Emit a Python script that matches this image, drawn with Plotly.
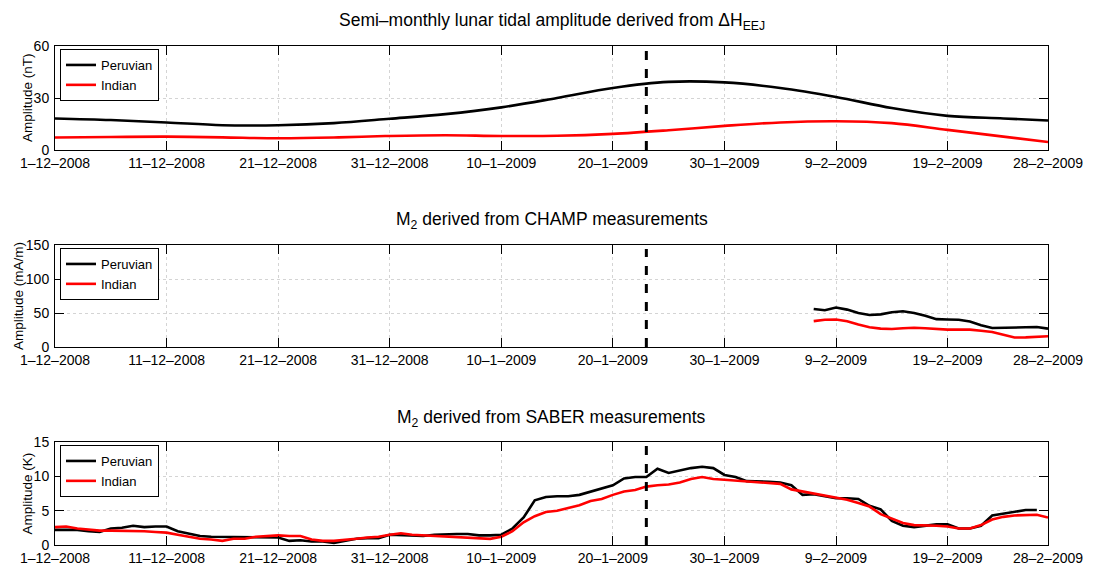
import pandas as pd
import plotly.graph_objects as go

# ---------------- data ----------------
start = pd.Timestamp("2008-12-01")
event_date = "2009-01-23"

# Panel 1: semi-monthly lunar tide from dH_EEJ (values every 5 days, smooth)
eej_days = [0, 5, 10, 15, 20, 25, 30, 35, 40, 45, 50, 55, 60, 65, 70, 75, 80, 85, 89]
eej_peruvian = [18.2, 17.3, 15.9, 14.3, 14.3, 15.5, 18.0, 20.7, 24.6, 30.0, 35.8, 39.3,
                39.0, 35.8, 30.6, 24.2, 19.7, 18.2, 17.0]
eej_indian = [7.2, 7.5, 7.7, 7.3, 6.8, 7.2, 8.1, 8.5, 8.1, 8.2, 9.3, 11.4,
              13.9, 15.9, 16.6, 15.5, 11.6, 7.7, 4.6]

# Panel 2: M2 from CHAMP (daily, days 68..89)
champ_days = list(range(68, 90))
champ_peruvian = [56, 54, 58, 55, 50, 47, 48, 51, 52.5, 50, 46, 41, 40.5, 40, 37.5,
                  32, 28, 28, 28.5, 29, 29.5, 27]
champ_indian = [38, 40, 40.4, 38, 33, 29, 27, 26.4, 27.5, 28.4, 27.6, 26.2, 25.5, 25.8,
                25.5, 24, 22, 18, 14, 14.2, 15.5, 15.9]

# Panel 3: M2 from SABER (daily)
saber_peruvian = [2.2, 2.2, 2.2, 2.0, 1.9, 2.4, 2.5, 2.8, 2.6, 2.7, 2.7, 2.0, 1.7, 1.3, 1.2,
                  1.2, 1.2, 1.2, 1.1, 1.1, 1.1, 0.6, 0.7, 0.5, 0.5, 0.3, 0.6, 0.9, 1.0, 1.0,
                  1.5, 1.4, 1.3, 1.3, 1.5, 1.6, 1.6, 1.6, 1.4, 1.4, 1.5, 2.4, 4.0, 6.5, 7.0,
                  7.1, 7.1, 7.3, 7.8, 8.3, 8.7, 9.7, 9.9, 9.9, 11.1, 10.5, 10.9, 11.2, 11.4,
                  11.2, 10.2, 9.9, 9.3, 9.3, 9.2, 9.1, 8.7, 7.3, 7.4, 7.1, 6.8, 6.8, 6.7,
                  5.7, 5.2, 3.5, 2.8, 2.6, 2.8, 3.0, 3.0, 2.4, 2.4, 2.8, 4.3, 4.6, 4.9,
                  5.1, 5.1]
saber_indian = [2.6, 2.7, 2.4, 2.2, 2.1, 2.1, 2.1, 2.1, 2.0, 1.9, 1.8, 1.5, 1.2, 0.9, 0.8,
                0.6, 0.9, 0.9, 1.2, 1.3, 1.4, 1.3, 1.3, 0.8, 0.6, 0.6, 0.7, 0.9, 1.1, 1.2,
                1.5, 1.7, 1.5, 1.4, 1.3, 1.3, 1.2, 1.1, 1.0, 0.9, 1.2, 2.0, 3.3, 4.2, 4.8,
                5.0, 5.4, 5.8, 6.4, 6.7, 7.3, 7.8, 8.0, 8.5, 8.7, 8.8, 9.1, 9.6, 9.9, 9.6,
                9.5, 9.4, 9.2, 9.1, 9.1, 8.9, 8.1, 7.8, 7.5, 7.2, 6.8, 6.6, 6.1, 5.6, 4.5,
                3.8, 3.2, 2.9, 2.9, 2.8, 2.7, 2.4, 2.4, 2.9, 3.7, 4.1, 4.3, 4.4, 4.4, 4.0]

tick_dates = ["2008-12-01", "2008-12-11", "2008-12-21", "2008-12-31", "2009-01-10",
              "2009-01-20", "2009-01-30", "2009-02-09", "2009-02-19", "2009-02-28"]
tick_labels = ["1–12–2008", "11–12–2008", "21–12–2008", "31–12–2008", "10–1–2009",
               "20–1–2009", "30–1–2009", "9–2–2009", "19–2–2009", "28–2–2009"]

titles = ["Semi–monthly lunar tidal amplitude derived from ΔH<sub>EEJ</sub>",
          "M<sub>2</sub> derived from CHAMP measurements",
          "M<sub>2</sub> derived from SABER measurements"]
ytitles = ["Amplitude (nT)", "Amplitude (mA/m)", "Amplitude (K)"]
yranges = [[0, 60], [0, 150], [0, 15]]
yticks = [[0, 30, 60], [0, 50, 100, 150], [0, 5, 10, 15]]


def to_dates(days):
    return [start + pd.Timedelta(days=int(d)) for d in days]


# ---------------- figure ----------------
# page body has an 8px margin, so the figure is sized/positioned to compensate
W, H = 1091, 557
ml, mr, mt, mb = 47, 51, 38, 20
ph = H - mt - mb
pw = W - ml - mr
panels_px = [(38, 142), (237, 339), (434, 537)]   # (top, bottom) in figure pixels
domains = [[(H - mb - b) / ph, (H - mb - t) / ph] for (t, b) in panels_px]
ytitle_shift = [-28, -37, -28]

FONT = "Liberation Sans, Arial, Helvetica, sans-serif"
BLACK = "#000000"
RED = "#ff0000"

panel_data = [
    (to_dates(eej_days), eej_peruvian, to_dates(eej_days), eej_indian, "spline"),
    (to_dates(champ_days), champ_peruvian, to_dates(champ_days), champ_indian, "linear"),
    (to_dates(range(len(saber_peruvian))), saber_peruvian,
     to_dates(range(len(saber_indian))), saber_indian, "linear"),
]

fig = go.Figure()
legend_names = ["legend", "legend2", "legend3"]
for i, (xp, yp, xi, yi, shape) in enumerate(panel_data):
    xa = "x" if i == 0 else f"x{i+1}"
    ya = "y" if i == 0 else f"y{i+1}"
    fig.add_trace(go.Scatter(x=xp, y=yp, mode="lines", name="Peruvian",
                             line=dict(color=BLACK, width=2.6, shape=shape),
                             xaxis=xa, yaxis=ya, legend=legend_names[i]))
    fig.add_trace(go.Scatter(x=xi, y=yi, mode="lines", name="Indian",
                             line=dict(color=RED, width=2.6, shape=shape),
                             xaxis=xa, yaxis=ya, legend=legend_names[i]))

layout = dict(
    width=W, height=H,
    margin=dict(l=ml, r=mr, t=mt, b=mb, autoexpand=False),
    plot_bgcolor="white", paper_bgcolor="white",
    font=dict(family=FONT, size=13, color=BLACK),
    showlegend=True,
)

axis_common = dict(
    showline=True, linecolor=BLACK, linewidth=1, mirror="allticks",
    ticks="inside", ticklen=9, tickcolor=BLACK, tickwidth=1,
    showgrid=True, gridcolor="#d4d4d4", griddash="dot", gridwidth=1,
    zeroline=False, automargin=False,
    tickfont=dict(family=FONT, size=14, color=BLACK),
)

for i in range(3):
    sfx = "" if i == 0 else str(i + 1)
    layout[f"xaxis{sfx}"] = dict(
        axis_common, type="date", range=["2008-12-01", "2009-02-28"],
        tickmode="array", tickvals=tick_dates, ticktext=tick_labels,
        anchor=f"y{sfx}", domain=[0, 1], ticklabelstandoff=0,
    )
    layout[f"yaxis{sfx}"] = dict(
        axis_common, range=yranges[i], tickmode="array", tickvals=yticks[i],
        anchor=f"x{sfx}", domain=domains[i], ticklabelstandoff=2,
    )
    layout[legend_names[i]] = dict(
        x=5 / pw, xanchor="left",
        y=domains[i][1] - 3 / ph, yanchor="top",
        xref="paper", yref="paper",
        bordercolor=BLACK, borderwidth=1, bgcolor="white",
        font=dict(family=FONT, size=13, color=BLACK),
        itemwidth=30, tracegroupgap=0,
    )

fig.update_layout(**layout)

for i in range(3):
    # panel title
    fig.add_annotation(
        text=titles[i], xref="paper", yref="paper", x=0.5,
        y=domains[i][1] + 24 / ph, yanchor="middle", xanchor="center",
        showarrow=False, font=dict(family=FONT, size=17.5, color=BLACK),
    )
    # y-axis title
    fig.add_annotation(
        text=ytitles[i], xref="paper", yref="paper", x=0, xshift=ytitle_shift[i],
        y=sum(domains[i]) / 2, xanchor="center", yanchor="middle", textangle=-90,
        showarrow=False, font=dict(family=FONT, size=13.5, color=BLACK),
    )
    # vertical dashed event line
    sfx = "" if i == 0 else str(i + 1)
    fig.add_shape(type="line", x0=event_date, x1=event_date, xref=f"x{sfx}",
                  y0=0, y1=0.96, yref=f"y{sfx} domain",
                  line=dict(color=BLACK, width=3, dash="dash"))

fig.write_html("out.html")
